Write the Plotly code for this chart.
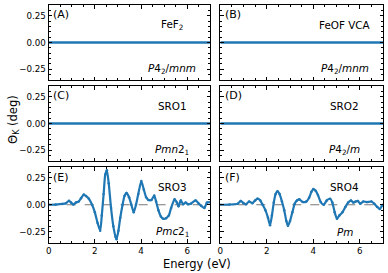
import plotly.graph_objects as go

# ---------------- data ----------------
panel_letters = ["(A)", "(B)", "(C)", "(D)", "(E)", "(F)"]
compounds = ["FeF<sub>2</sub>", "FeOF VCA", "SRO1", "SRO2", "SRO3", "SRO4"]
space_groups = ["<i>P</i>4<sub>2</sub>/<i>mnm</i>", "<i>P</i>4<sub>2</sub>/<i>mnm</i>",
                "<i>Pmn</i>2<sub>1</sub>", "<i>P</i>4<sub>2</sub>/<i>m</i>",
                "<i>Pmc</i>2<sub>1</sub>", "<i>Pm</i>"]

energy_flat = [0.0, 7.0]
theta_flat = [0.0, 0.0]

energy_e = [0.0, 0.3, 0.6, 0.75, 0.88, 0.97, 1.07, 1.18, 1.3, 1.4, 1.52, 1.62, 1.74, 1.88,
            2.0, 2.12, 2.23, 2.3, 2.38, 2.45, 2.52, 2.6, 2.7, 2.8, 2.9, 2.94, 3.02, 3.1,
            3.2, 3.28, 3.37, 3.48, 3.58, 3.68, 3.78, 3.88, 4.01, 4.12, 4.22, 4.32, 4.45,
            4.57, 4.65, 4.75, 4.86, 4.96, 5.08, 5.2, 5.3, 5.45, 5.55, 5.62, 5.72, 5.82,
            5.93, 6.03, 6.15, 6.36, 6.5, 6.6, 6.74, 6.85, 7.0]
theta_e = [0.0, 0.002, 0.008, 0.015, 0.037, 0.02, 0.002, 0.02, 0.03, 0.06, 0.094, 0.08,
           0.056, 0.0, -0.07, -0.17, -0.24, -0.1, 0.1, 0.28, 0.32, 0.2, -0.03, -0.2, -0.3,
           -0.32, -0.24, -0.12, 0.0, 0.08, 0.11, 0.07, 0.0, -0.07, 0.0, 0.1, 0.22, 0.14,
           0.07, 0.045, 0.045, 0.085, 0.03, -0.05, -0.11, -0.13, -0.125, -0.1, -0.03,
           0.05, 0.02, -0.015, 0.04, 0.005, 0.02, 0.005, 0.01, 0.04, 0.01, -0.01, -0.03,
           0.02, 0.025]

energy_f = [0.0, 0.4, 0.75, 0.88, 1.0, 1.1, 1.24, 1.38, 1.5, 1.6, 1.72, 1.82, 1.94, 2.05,
            2.14, 2.22, 2.3, 2.38, 2.46, 2.55, 2.65, 2.75, 2.84, 2.91, 3.0, 3.1, 3.2, 3.3,
            3.4, 3.55, 3.7, 3.82, 3.92, 4.0, 4.1, 4.2, 4.32, 4.45, 4.58, 4.72, 4.82, 4.92,
            5.02, 5.12, 5.25, 5.38, 5.5, 5.62, 5.72, 5.82, 5.92, 6.02, 6.15, 6.3, 6.5,
            6.62, 6.75, 6.86, 6.95, 7.0]
theta_f = [0.0, 0.002, 0.01, 0.035, 0.015, 0.005, 0.03, 0.015, 0.04, 0.056, 0.04, 0.0,
           -0.05, -0.12, -0.19, -0.1, 0.02, 0.1, 0.125, 0.1, 0.03, -0.05, -0.15, -0.195,
           -0.15, -0.07, 0.01, 0.04, 0.05, 0.025, 0.03, 0.065, 0.12, 0.145, 0.13, 0.09,
           0.025, 0.0, 0.04, 0.055, 0.02, -0.07, -0.13, -0.1, -0.07, -0.02, 0.02, 0.04,
           0.02, 0.03, 0.035, 0.01, 0.03, 0.025, 0.03, 0.01, -0.02, -0.04, -0.01, 0.0]

y_tickvals = [-0.25, 0.0, 0.25]
y_ticktext = ["\u22120.25", "0.00", "0.25"]
x_tickvals = [0, 2, 4, 6]
x_ticktext = ["0", "2", "4", "6"]

series_x = [energy_flat, energy_flat, energy_flat, energy_flat, energy_e, energy_f]
series_y = [theta_flat, theta_flat, theta_flat, theta_flat, theta_e, theta_f]

# ---------------- layout ----------------
W, H = 388, 273
col_px = [(46, 209), (219, 383)]
row_px = [(5, 80), (86, 161), (167, 242.5)]
BLUE = "#1f77b4"
FONT = "DejaVu Sans"

fig = go.Figure()
layout = dict(width=W, height=H, margin=dict(l=0, r=0, t=0, b=0),
              paper_bgcolor="white", plot_bgcolor="white", showlegend=False,
              font=dict(family=FONT, size=8.7, color="black"))
annotations = []
shapes = []

for i in range(6):
    r, c = divmod(i, 2)
    n = "" if i == 0 else str(i + 1)
    xa, ya = "x" + n, "y" + n
    x0, x1 = col_px[c]
    y0, y1 = row_px[r]
    common = dict(showline=True, linecolor="black", linewidth=1, mirror="allticks",
                  ticks="inside", ticklen=3.5, tickwidth=0.8, tickcolor="black",
                  showgrid=False, zeroline=False)
    layout["xaxis" + n] = dict(domain=[x0 / W, x1 / W], anchor=ya, range=[0, 7],
                               tickvals=x_tickvals, ticktext=x_ticktext,
                               showticklabels=(r == 2),
                               minor=dict(ticks="inside", ticklen=2, tickwidth=0.6,
                                          tickcolor="black", dtick=0.5, tick0=0),
                               **common)
    layout["yaxis" + n] = dict(domain=[1 - y1 / H, 1 - y0 / H], anchor=xa,
                               range=[-0.35, 0.35],
                               tickvals=y_tickvals, ticktext=y_ticktext,
                               showticklabels=(c == 0),
                               minor=dict(ticks="inside", ticklen=2, tickwidth=0.6,
                                          tickcolor="black", dtick=0.05, tick0=0),
                               **common)
    if r == 2:
        shapes.append(dict(type="line", xref=xa, yref=ya, x0=0, x1=7, y0=0, y1=0,
                           line=dict(color="#555555", width=0.8, dash="dash"),
                           layer="below"))
        fig.add_trace(go.Scatter(x=series_x[i], y=series_y[i], xaxis=xa, yaxis=ya,
                                 mode="lines+markers", line=dict(color=BLUE, width=2.2,
                                                                 shape="spline", smoothing=0.6),
                                 marker=dict(color=BLUE, size=2.5),
                                 hoverinfo="skip"))
    else:
        fig.add_trace(go.Scatter(x=series_x[i], y=series_y[i], xaxis=xa, yaxis=ya,
                                 mode="lines", line=dict(color=BLUE, width=2.6),
                                 hoverinfo="skip"))
    annotations.append(dict(text=panel_letters[i], xref=xa, yref=ya, x=0.12, y=0.257,
                            xanchor="left", yanchor="middle", showarrow=False,
                            font=dict(family=FONT, size=11)))
    annotations.append(dict(text=compounds[i], xref=xa, yref=ya, x=5.36, y=0.165,
                            xanchor="center", yanchor="middle", showarrow=False,
                            font=dict(family=FONT, size=10.4)))
    annotations.append(dict(text=space_groups[i], xref=xa, yref=ya, x=5.36, y=-0.25,
                            xanchor="center", yanchor="middle", showarrow=False,
                            font=dict(family=FONT, size=10.4)))

annotations.append(dict(text="\u0398<sub>K</sub> (deg)", xref="paper", yref="paper",
                        x=10 / W, y=1 - 119 / H, xanchor="center", yanchor="middle",
                        textangle=-90, showarrow=False, font=dict(family=FONT, size=11.5)))
annotations.append(dict(text="Energy (eV)", xref="paper", yref="paper",
                        x=195.5 / W, y=1 - 263.5 / H, xanchor="center", yanchor="middle",
                        showarrow=False, font=dict(family=FONT, size=11.5)))

layout["annotations"] = annotations
layout["shapes"] = shapes
fig.update_layout(**layout)
fig.write_html("out.html", config={"displayModeBar": False},
               post_script="document.body.style.margin='0';document.body.style.padding='0';"
                           "document.body.style.overflow='hidden';")
